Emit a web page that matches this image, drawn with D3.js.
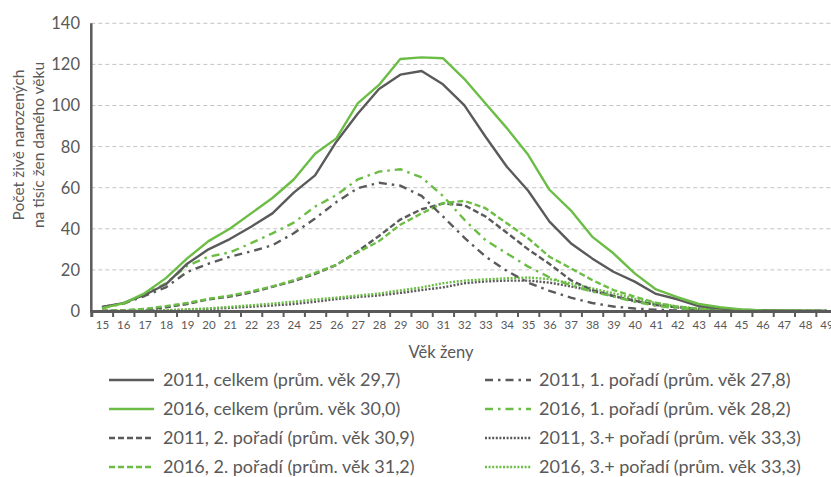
<!DOCTYPE html>
<html><head><meta charset="utf-8">
<script src="https://cdn.jsdelivr.net/npm/d3@7"></script>
<style>
body{margin:0;background:#fff;}
text{font-family:Lato,"Open Sans",sans-serif;fill:#595959;}
</style></head>
<body><svg id="c" width="831" height="477"></svg>
<script>
const ages = d3.range(15, 50);
const yTicks = [0,20,40,60,80,100,120,140];

const total2011 = [2.0,3.8,7.8,13,23,30,35,41,47.5,57.6,66,82.4,96,108,115,116.8,110.3,100.2,84.8,70.2,58.5,43.5,33,25.6,19.1,14.3,8.3,5.7,2.4,1.3,0.6,0.25,0.1,0.05,0.02];
const total2016 = [1.4,3.7,8.6,16,25.6,34,40,47.5,55,64,76.5,84,101,110,122.6,123.4,123,113,101,89,76,59,49,36.2,28.1,18.3,10.5,6.7,3.4,1.8,0.8,0.3,0.15,0.05,0.02];
const first2011 = [1.9,3.6,7.3,11.5,19,23,26.4,29,32,37.8,45,53,59.7,62.4,61,56,46,35.7,26.5,19.5,13.8,9.8,6.5,3.9,2.2,1.2,0.6,0.3,0.15,0.07,0.03,0.01,0,0,0];
const first2016 = [1.3,3.5,8,13.5,22,26.4,28.5,33,37.8,43,50.8,56.4,64,67.8,69,65,56,44.5,34.5,28,21.6,16.4,12.5,9.5,7,4.5,2.5,1.4,0.7,0.35,0.15,0.07,0.03,0.01,0];
const second2011 = [0.1,0.3,0.8,1.8,3.4,5.7,7,9,11.8,14.6,18,22.4,29,36.5,44.5,49.5,52.3,51.5,46,38.1,30,22.9,15,10.2,7.3,5,2.9,1.8,1.1,0.5,0.2,0.1,0.05,0.02,0.01];
const second2016 = [0.1,0.3,1,2.4,3.9,5.9,7.5,9.5,12,15,18.5,22.5,28.5,34,42,47.5,52.5,53.6,50,42.7,35.4,26.4,20.8,15.1,10.2,7,4,2.1,1.1,0.5,0.2,0.1,0.05,0.02,0.01];
const third2011 = [0,0.05,0.15,0.35,0.6,1,1.5,2.1,2.7,3.4,4.5,5.8,6.8,7.6,8.8,10.2,11.5,13.5,14.4,14.8,14.8,13.8,12,9.8,7.3,4.8,3,1.7,0.9,0.45,0.2,0.1,0.05,0.02,0.01];
const third2016 = [0,0.05,0.2,0.4,0.8,1.3,2,2.8,3.6,4.5,5.6,6.5,7.5,8.5,10,11.5,13.5,14.8,15.4,15.9,16.3,15.5,13.5,11,8.6,6,3.8,2.2,1.1,0.6,0.3,0.15,0.08,0.04,0.02];

const labels = [
  "2011, celkem (prům. věk 29,7)",
  "2016, celkem (prům. věk 30,0)",
  "2011, 2. pořadí (prům. věk 30,9)",
  "2016, 2. pořadí (prům. věk 31,2)",
  "2011, 1. pořadí (prům. věk 27,8)",
  "2016, 1. pořadí (prům. věk 28,2)",
  "2011, 3.+ pořadí (prům. věk 33,3)",
  "2016, 3.+ pořadí (prům. věk 33,3)"
];

const GRAY = "#5a5a5a", GREEN = "#6cbd45";
const series = [
  {v: third2011, c: GRAY, d: "2,1.6", w: 2.4, lab: labels[6], col: 1, row: 2},
  {v: third2016, c: GREEN, d: "2,1.6", w: 2.4, lab: labels[7], col: 1, row: 3},
  {v: second2011, c: GRAY, d: "6,3", w: 2.4, lab: labels[2], col: 0, row: 2},
  {v: second2016, c: GREEN, d: "6,3", w: 2.4, lab: labels[3], col: 0, row: 3},
  {v: first2011, c: GRAY, d: "8,5,2.5,5", w: 2.4, lab: labels[4], col: 1, row: 0},
  {v: first2016, c: GREEN, d: "8,5,2.5,5", w: 2.4, lab: labels[5], col: 1, row: 1},
  {v: total2011, c: GRAY, d: null, w: 2.4, lab: labels[0], col: 0, row: 0},
  {v: total2016, c: GREEN, d: null, w: 2.4, lab: labels[1], col: 0, row: 1}
];

const svg = d3.select("#c");
const left = 91.3, step = 21.31;
const x = d3.scaleLinear().domain([14.5, 49.5]).range([left, left + 35*step]);
const y = d3.scaleLinear().domain([0, 140]).range([311, 23.3]);

// gridlines
svg.append("g").selectAll("line").data(yTicks.slice(1)).join("line")
  .attr("x1", left).attr("x2", 831).attr("y1", d=>y(d)).attr("y2", d=>y(d))
  .attr("stroke", "#c4c4c4").attr("stroke-width", 1).attr("stroke-dasharray", "4,3");

// y labels
svg.append("g").selectAll("text").data(yTicks).join("text")
  .attr("x", 80).attr("y", d=>y(d)).attr("dy", "0.36em").attr("text-anchor", "end")
  .style("font-size", "16.5px").text(d=>d);

// lines
const line = d3.line().x((d,i)=>x(ages[i])).y(d=>y(d));
svg.append("g").selectAll("path").data(series).join("path")
  .attr("d", s=>line(s.v)).attr("fill", "none")
  .attr("stroke", s=>s.c).attr("stroke-width", s=>s.w)
  .attr("stroke-dasharray", s=>s.d).attr("stroke-linejoin", "round");

// y axis line
svg.append("line").attr("x1", left).attr("x2", left).attr("y1", y(140)).attr("y2", y(0)+1.5)
  .attr("stroke", GRAY).attr("stroke-width", 2.5);

// x axis: boundary ticks
const xAxisTicks = d3.axisBottom(x).tickValues(ages.map(a=>a-0.5).concat([49.5])).tickSize(6).tickFormat("");
const gt = svg.append("g").attr("transform", "translate(0,311)").call(xAxisTicks);
gt.select(".domain").attr("stroke", GRAY).attr("stroke-width", 3);
gt.selectAll(".tick line").attr("stroke", GRAY).attr("stroke-width", 2);

const xAxisLabels = d3.axisBottom(x).tickValues(ages).tickSize(0).tickPadding(0).tickFormat(d=>d);
const gl = svg.append("g").attr("transform", "translate(0,311)").call(xAxisLabels);
gl.select(".domain").remove();
gl.selectAll("text").attr("y", 13.5).attr("dy", "0.36em").style("font-size", "11.5px")
  .style("font-family", "Lato, sans-serif").attr("fill", GRAY);

// axis titles
svg.append("text").attr("x", 441).attr("y", 352).attr("dy", "0.36em").attr("text-anchor", "middle")
  .style("font-size", "16.5px").text("Věk ženy");
const yt = svg.append("text").attr("transform", "translate(18,145) rotate(-90)").attr("text-anchor", "middle")
  .style("font-size", "15.5px");
yt.append("tspan").attr("x", 0).attr("dy", "0.36em").text("Počet živě narozených");
yt.append("tspan").attr("x", 0).attr("dy", "20").text("na tisíc žen daného věku");

// legend
const colX = [[109, 154, 163], [485, 531, 539]];
const rowY = [380, 409, 438, 467];
const lg = svg.append("g").selectAll("g").data(series).join("g");
lg.append("line").attr("x1", s=>colX[s.col][0]).attr("x2", s=>colX[s.col][1])
  .attr("y1", s=>rowY[s.row]).attr("y2", s=>rowY[s.row])
  .attr("stroke", s=>s.c).attr("stroke-width", s=>s.w).attr("stroke-dasharray", s=>s.d);
lg.append("text").attr("x", s=>colX[s.col][2]).attr("y", s=>rowY[s.row]).attr("dy", "0.36em")
  .style("font-size", "18px").text(s=>s.lab);
</script></body></html>
